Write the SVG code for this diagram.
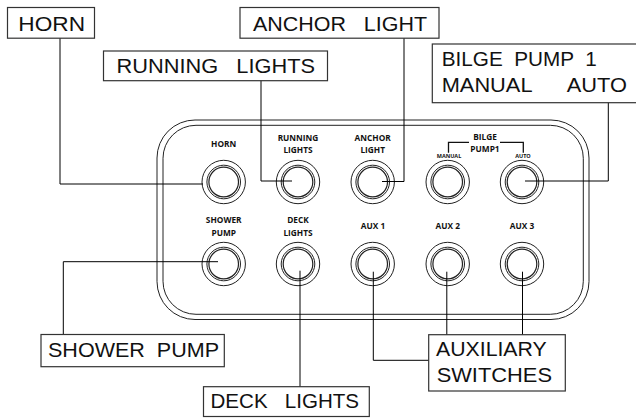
<svg xmlns="http://www.w3.org/2000/svg" width="636" height="419" viewBox="0 0 636 419">
<style>
.box{fill:#fff;stroke:#333;stroke-width:1.2}
.ln{fill:none;stroke:#000;stroke-width:1}
.pn{fill:none;stroke:#222;stroke-width:1}
.t{font-family:"Liberation Sans",Arial,sans-serif;font-size:21px;fill:#111;white-space:pre}
.s{font-family:"Open Sans","Liberation Sans",sans-serif;font-size:8.300px;font-weight:700;fill:#111;text-anchor:middle}
.xs{font-size:5.500px}
</style>
<defs>
<g id="btn" fill="none" stroke="#222">
<circle r="21.7" stroke-width="1"/>
<circle r="16.8" stroke-width="1"/>
<circle r="14.8" stroke-width="1.2"/>
</g>
</defs>
<g id="panel">
<rect class="pn" x="157" y="120" width="432" height="199.500" rx="38"/>
<rect class="pn" x="163" y="125.300" width="420.300" height="189" rx="33"/>
<text class="s" x="223.700" y="146.700">HORN</text>
<text class="s" x="298" y="140.500">RUNNING</text><text class="s" x="298" y="153">LIGHTS</text>
<text class="s" x="372.700" y="140.500">ANCHOR</text><text class="s" x="372.700" y="153">LIGHT</text>
<text class="s" x="447.700" y="229.300">AUX 2</text>
<text class="s" x="522" y="229.300">AUX 3</text>
<text class="s" x="223.700" y="223.300">SHOWER</text><text class="s" x="223.700" y="235.700">PUMP</text>
<text class="s" x="298" y="223.300">DECK</text><text class="s" x="298" y="235.700">LIGHTS</text>
<text class="s" x="373" y="229.300">AUX 1</text>
<text class="s" x="485" y="140">BILGE</text><text class="s" x="485" y="152.300">PUMP1</text>
<text class="s xs" x="449" y="158">MANUAL</text><text class="s xs" x="523" y="158">AUTO</text>
<path d="M448.500 152.700V142.400H469M500 142.400H523.300V152.700" fill="none" stroke="#111" stroke-width="1.300"/>
</g>
<g id="btn-horn"><use href="#btn" x="223.700" y="182"/></g>
<g id="btn-running"><use href="#btn" x="298" y="182"/></g>
<g id="btn-anchor"><use href="#btn" x="372.700" y="182"/></g>
<g id="btn-manual"><use href="#btn" x="447.700" y="182"/></g>
<g id="btn-auto"><use href="#btn" x="522" y="182"/></g>
<g id="btn-shower"><use href="#btn" x="223.700" y="264"/></g>
<g id="btn-deck"><use href="#btn" x="298" y="264"/></g>
<g id="btn-aux1"><use href="#btn" x="372.700" y="264"/></g>
<g id="btn-aux2"><use href="#btn" x="447.700" y="264"/></g>
<g id="btn-aux3"><use href="#btn" x="522" y="264"/></g>
<g id="connectors">
<path class="ln" d="M60 38V184H203"/>
<path class="ln" d="M261 80V181H292"/>
<path class="ln" d="M404 38V181.500H382"/>
<path class="ln" d="M608.300 102V181H525"/>
<path class="ln" d="M218 261.700H63.300V335"/>
<path class="ln" d="M300 270.700V387"/>
<path class="ln" d="M373.300 271.700V360.300H429"/>
<path class="ln" d="M446.800 271.700V335"/>
<path class="ln" d="M522.500 271.700V335"/>
</g>
<g id="label-horn"><rect class="box" x="7.500" y="7.500" width="87" height="30.700"/><text class="t" x="18.300" y="31" textLength="66.700" lengthAdjust="spacingAndGlyphs">HORN</text></g>
<g id="label-anchor"><rect class="box" x="240" y="7.500" width="199" height="30.700"/><text class="t" x="253" y="31" textLength="174" lengthAdjust="spacingAndGlyphs">ANCHOR   LIGHT</text></g>
<g id="label-running"><rect class="box" x="103.500" y="51" width="224" height="29.700"/><text class="t" x="116.500" y="72.700" textLength="198.500" lengthAdjust="spacingAndGlyphs">RUNNING   LIGHTS</text></g>
<g id="label-bilge"><rect class="box" x="432.300" y="44" width="210" height="58.700"/><text class="t" x="441.700" y="65.700" textLength="155" lengthAdjust="spacingAndGlyphs">BILGE  PUMP  1</text><text class="t" x="441.700" y="91.700" textLength="185.300" lengthAdjust="spacingAndGlyphs">MANUAL      AUTO</text></g>
<g id="label-shower"><rect class="box" x="41" y="334.500" width="183.300" height="32.200"/><text class="t" x="48" y="356.700" textLength="171" lengthAdjust="spacingAndGlyphs">SHOWER  PUMP</text></g>
<g id="label-deck"><rect class="box" x="203.500" y="386.700" width="165.800" height="29.800"/><text class="t" x="210.500" y="408.300" textLength="148.500" lengthAdjust="spacingAndGlyphs">DECK   LIGHTS</text></g>
<g id="label-aux"><rect class="box" x="428.700" y="334.700" width="136.600" height="56.300"/><text class="t" x="436" y="355.700" textLength="110.700" lengthAdjust="spacingAndGlyphs">AUXILIARY</text><text class="t" x="436.700" y="381.700" textLength="115.300" lengthAdjust="spacingAndGlyphs">SWITCHES</text></g>
</svg>
